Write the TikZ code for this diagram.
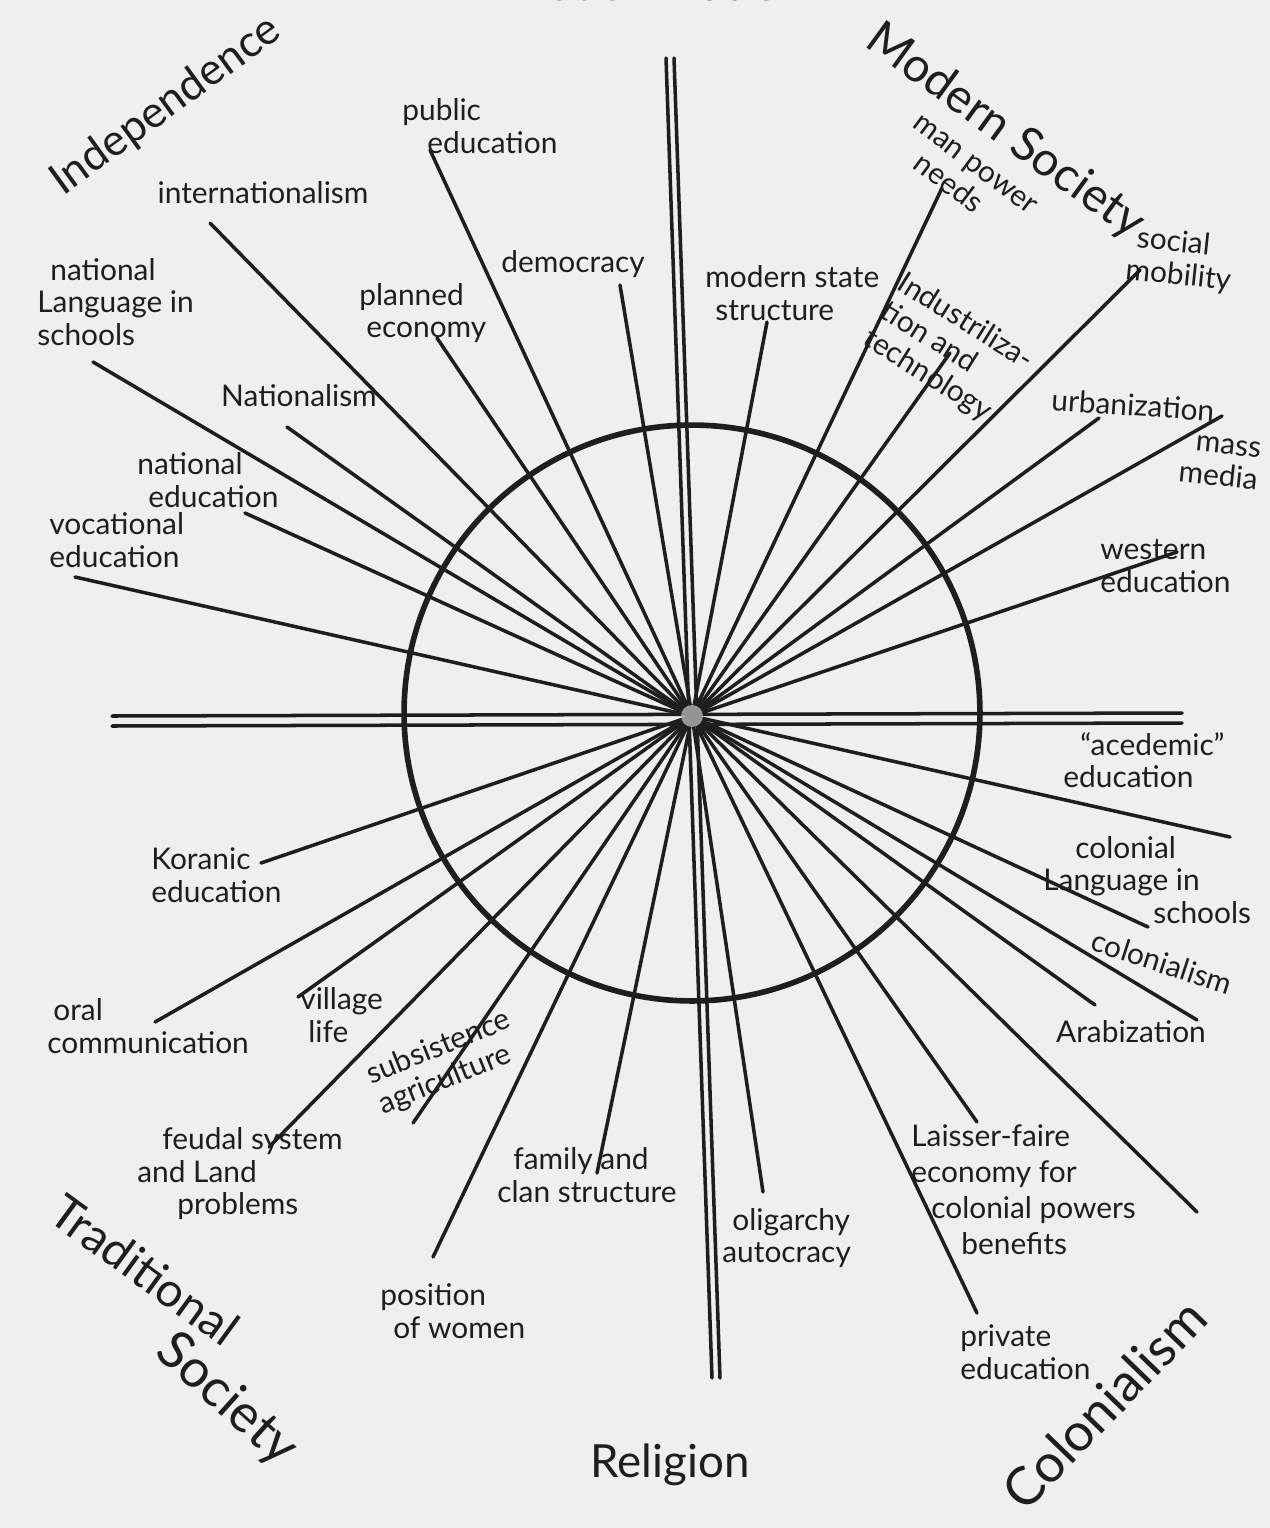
\documentclass[tikz,border=0pt]{standalone}
\usepackage{fontspec}
\setmainfont{Lato}
\definecolor{paper}{HTML}{EFEFEF}
\definecolor{ink}{HTML}{1E1E1E}

\begin{document}
\begin{tikzpicture}[
        x=0.02cm, y=-0.02cm,
        spoke/.style={ink, line width=2pt, line cap=round},
        axis/.style={ink, line width=2pt, line cap=round},
        ring/.style={ink, line width=3.2pt},
        lbl/.style={ink, font=\fontsize{17}{18.5}\selectfont, align=left, inner sep=0pt},
        big/.style={ink, font=\fontsize{27}{30}\selectfont, inner sep=0pt}]

    \fill[paper] (0,0) rectangle (1270,1528);
    \clip (0,0) rectangle (1270,1528);

    \coordinate (hub)    at (692,716);
    \coordinate (vtop)   at (670,58);
    \coordinate (vbot)   at (716,1378);
    \coordinate (hleft)  at (112,721);
    \coordinate (hright) at (1182,718);

    \draw[ring] (692,713) circle [radius=5.76cm];

    % --- axes (double lines)
    \draw[axis] ([xshift=-0.08cm]vtop)  -- ([xshift=-0.08cm]vbot);
    \draw[axis] ([xshift=0.08cm]vtop)   -- ([xshift=0.08cm]vbot);
    \draw[axis] ([yshift=0.1cm]hleft)   -- ([yshift=0.1cm]hright);
    \draw[axis] ([yshift=-0.1cm]hleft)  -- ([yshift=-0.1cm]hright);

    % --- spoke ends
    \coordinate (e-intl)    at (210,223);
    \coordinate (e-public)  at (430,150);
    \coordinate (e-natlang) at (93,362);
    \coordinate (e-planned) at (437,338);
    \coordinate (e-demo)    at (620,285);
    \coordinate (e-nat)     at (287,427);
    \coordinate (e-nated)   at (245,513);
    \coordinate (e-voc)     at (75,577);
    \coordinate (e-man)     at (942,188);
    \coordinate (e-state)   at (767,322);
    \coordinate (e-ind)     at (950,353);
    \coordinate (e-social)  at (1140,270);
    \coordinate (e-urban)   at (1099,418);
    \coordinate (e-mass)    at (1222,416);
    \coordinate (e-west)    at (1177,552);
    \coordinate (e-acad)    at (1230,837);
    \coordinate (e-collang) at (1148,927);
    \coordinate (e-colon)   at (1197,1020);
    \coordinate (e-arab)    at (1095,1005);
    \coordinate (e-laisser) at (977,1122);
    \coordinate (e-powers)  at (1197,1212);
    \coordinate (e-private) at (977,1313);
    \coordinate (e-olig)    at (763,1192);
    \coordinate (e-family)  at (597,1173);
    \coordinate (e-women)   at (433,1257);
    \coordinate (e-subs)    at (413,1123);
    \coordinate (e-feudal)  at (269,1147);
    \coordinate (e-village) at (298,997);
    \coordinate (e-oral)    at (155,1022);
    \coordinate (e-koran)   at (261,863);

    % --- spokes
    \draw[spoke] (hub) -- (e-intl);
    \draw[spoke] (hub) -- (e-public);
    \draw[spoke] (hub) -- (e-natlang);
    \draw[spoke] (hub) -- (e-planned);
    \draw[spoke] (hub) -- (e-demo);
    \draw[spoke] (hub) -- (e-nat);
    \draw[spoke] (hub) -- (e-nated);
    \draw[spoke] (hub) -- (e-voc);
    \draw[spoke] (hub) -- (e-man);
    \draw[spoke] (hub) -- (e-state);
    \draw[spoke] (hub) -- (e-ind);
    \draw[spoke] (hub) -- (e-social);
    \draw[spoke] (hub) -- (e-urban);
    \draw[spoke] (hub) -- (e-mass);
    \draw[spoke] (hub) -- (e-west);
    \draw[spoke] (hub) -- (e-acad);
    \draw[spoke] (hub) -- (e-collang);
    \draw[spoke] (hub) -- (e-colon);
    \draw[spoke] (hub) -- (e-arab);
    \draw[spoke] (hub) -- (e-laisser);
    \draw[spoke] (hub) -- (e-powers);
    \draw[spoke] (hub) -- (e-private);
    \draw[spoke] (hub) -- (e-olig);
    \draw[spoke] (hub) -- (e-family);
    \draw[spoke] (hub) -- (e-women);
    \draw[spoke] (hub) -- (e-subs);
    \draw[spoke] (hub) -- (e-feudal);
    \draw[spoke] (hub) -- (e-village);
    \draw[spoke] (hub) -- (e-oral);
    \draw[spoke] (hub) -- (e-koran);
    \fill[gray!60, opacity=0.8] (hub) circle (0.22cm);

    % --- labels, upper half
    \node[lbl] (l-intl)    at (263,193) {internationalism};
    \node[lbl, anchor=west] (l-public)  at (402,126) {public\\\hspace*{0.5cm}education};
    \node[lbl, anchor=west] (l-natlang) at (37,302)  {\hspace*{0.26cm}national\\Language in\\schools};
    \node[lbl, anchor=west] (l-planned) at (359,313) {planned\\\hspace*{0.14cm}economy};
    \node[lbl] (l-demo)    at (573,264) {democracy};
    \node[lbl] (l-nat)     at (299,396) {Nationalism};
    \node[lbl, anchor=west] (l-nated)   at (137,480) {national\\\hspace*{0.22cm}education};
    \node[lbl, anchor=west] (l-voc)     at (49,540)  {vocational\\education};
    \node[lbl, anchor=west] (l-state)   at (705,293) {modern state\\\hspace*{0.2cm}structure};
    \node[lbl, rotate=-37]  (l-man)     at (965,178) {man power\\\hspace*{0.5cm}needs};
    \node[lbl, rotate=-32]  (l-ind)     at (948,350) {Industriliza-\\tion and\\technology};
    \node[lbl, rotate=-6]   (l-social)  at (1180,260) {\hspace*{0.16cm}social\\mobility};
    \node[lbl, rotate=-4]   (l-urban)   at (1133,405) {urbanization};
    \node[lbl, anchor=west, rotate=-6] (l-mass) at (1180,458) {\hspace*{0.28cm}mass\\media};
    \node[lbl, anchor=west] (l-west)    at (1100,566) {western\\education};

    % --- labels, lower half
    \node[lbl, anchor=west] (l-acad)    at (1063,760) {\hspace*{0.34cm}\textquotedblleft acedemic\textquotedblright\\education};
    \node[lbl, anchor=west] (l-collang) at (1043,880) {\hspace*{0.64cm}colonial\\Language in\\\hspace*{2.2cm}schools};
    \node[lbl, rotate=-18]  (l-colon)   at (1162,962) {colonialism};
    \node[lbl]              (l-arab)    at (1131,1032) {Arabization};
    \node[lbl, anchor=west, font=\fontsize{17}{20.5}\selectfont] (l-laisser) at (911,1190)
        {Laisser-faire\\economy for\\\hspace*{0.4cm}colonial powers\\\hspace*{1cm}benefits};
    \node[lbl, anchor=west] (l-private) at (960,1352) {private\\education};
    \node[lbl, anchor=west] (l-olig)    at (722,1238) {\hspace*{0.2cm}oligarchy\\autocracy};
    \node[lbl, anchor=west] (l-family)  at (497,1175) {\hspace*{0.32cm}family and\\clan structure};
    \node[lbl, anchor=west] (l-women)   at (380,1311) {position\\\hspace*{0.26cm}of women};
    \node[lbl, rotate=22]   (l-subs)    at (445,1063) {subsistence\\agriculture};
    \node[lbl, anchor=west] (l-feudal)  at (137,1174) {\hspace*{0.5cm}feudal system\\and Land\\\hspace*{0.8cm}problems};
    \node[lbl, anchor=west] (l-village) at (300,1015) {village\\\hspace*{0.16cm}life};
    \node[lbl, anchor=west] (l-oral)    at (47,1026)  {\hspace*{0.12cm}oral\\communication};
    \node[lbl, anchor=west] (l-koran)   at (151,875)  {Koranic\\education};

    % --- the six poles
    \node[big, anchor=base] (p-top)  at (655,1) {Modernization};
    \node[big, rotate=36, font=\fontsize{25}{28}\selectfont] (p-ind) at (166,106) {Independence};
    \node[big, rotate=-36]  (p-mod)  at (1005,132) {Modern Society};
    \node[big, rotate=-36]  (p-trad) at (145,1270) {Traditional};
    \node[big, rotate=-42, font=\fontsize{30}{32}\selectfont] (p-soc) at (226,1400) {Society};
    \node[big, font=\fontsize{26}{30}\selectfont] (p-rel) at (670,1465) {Religion};
    \node[big, rotate=46, font=\fontsize{30}{32}\selectfont] (p-col) at (1104,1404) {Colonialism};

\end{tikzpicture}
\end{document}
